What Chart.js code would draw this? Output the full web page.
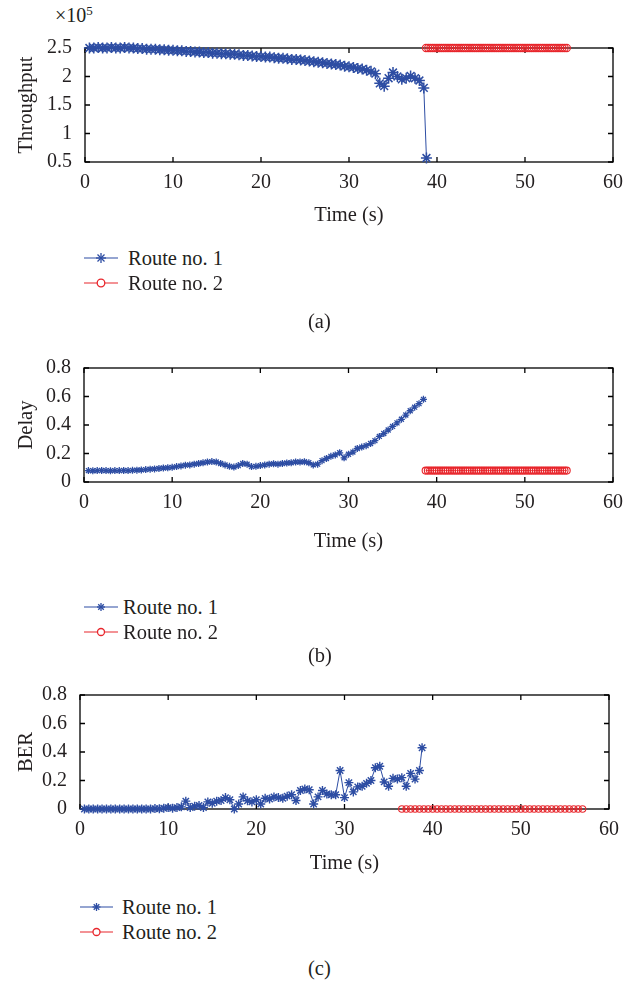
<!DOCTYPE html>
<html>
<head>
<meta charset="utf-8">
<script src="https://cdn.jsdelivr.net/npm/chart.js@4.4.1/dist/chart.umd.min.js"></script>
<style>
  body { margin: 0; background: #fff; width: 637px; height: 984px; position: relative; overflow: hidden;
         font-family: "Liberation Serif", "Times New Roman", serif; color: #231f20; }
  .panel { position: absolute; left: 0; width: 637px; }
  .txt { position: absolute; font-size: 20.5px; line-height: 1; white-space: nowrap; }
  .leg { position: absolute; display: flex; align-items: center; height: 24px; font-size: 20.5px; white-space: nowrap; }
  .leg svg { display: block; }
</style>
</head>
<body>

<span class="txt" style="left:55px; top:4px; font-size:20px;">×10<sup style="font-size:13px; vertical-align:7px;">5</sup></span>
<div class="panel" style="top:8px; height:224px"><canvas id="chartA"></canvas></div>
<div class="panel" style="top:328px; height:230px"><canvas id="chartB"></canvas></div>
<div class="panel" style="top:655px; height:225px"><canvas id="chartC"></canvas></div>

<!-- legends -->
<div class="leg" style="left:84px; top:246px"><svg width="34" height="24"><line x1="0" y1="12" x2="34" y2="12" stroke="#2d4da3" stroke-width="1.2"/><g stroke="#2d4da3" stroke-width="1.3"><line x1="17" y1="7" x2="17" y2="17"/><line x1="12" y1="12" x2="22" y2="12"/><line x1="13.5" y1="8.5" x2="20.5" y2="15.5"/><line x1="13.5" y1="15.5" x2="20.5" y2="8.5"/></g></svg><span style="margin-left:10px">Route no. 1</span></div>
<div class="leg" style="left:84px; top:271px"><svg width="34" height="24"><line x1="0" y1="12" x2="34" y2="12" stroke="#e8262c" stroke-width="1.2"/><circle cx="17" cy="12" r="3.8" fill="#fff" stroke="#e8262c" stroke-width="1.3"/></svg><span style="margin-left:10px">Route no. 2</span></div>
<div class="txt" style="left:308px; top:311px;">(a)</div>

<div class="leg" style="left:84px; top:595px"><svg width="34" height="24"><line x1="0" y1="12" x2="34" y2="12" stroke="#2d4da3" stroke-width="1.2"/><g stroke="#2d4da3" stroke-width="1.3"><line x1="17" y1="8" x2="17" y2="16"/><line x1="13" y1="12" x2="21" y2="12"/><line x1="14.2" y1="9.2" x2="19.8" y2="14.8"/><line x1="14.2" y1="14.8" x2="19.8" y2="9.2"/></g></svg><span style="margin-left:5px">Route no. 1</span></div>
<div class="leg" style="left:84px; top:620px"><svg width="34" height="24"><line x1="0" y1="12" x2="34" y2="12" stroke="#e8262c" stroke-width="1.2"/><circle cx="17" cy="12" r="3.5" fill="#fff" stroke="#e8262c" stroke-width="1.3"/></svg><span style="margin-left:5px">Route no. 2</span></div>
<div class="txt" style="left:308px; top:645px;">(b)</div>

<div class="leg" style="left:80px; top:895px"><svg width="33" height="24"><line x1="0" y1="12" x2="33" y2="12" stroke="#2d4da3" stroke-width="1.2"/><g stroke="#2d4da3" stroke-width="1.3"><line x1="16.5" y1="8" x2="16.5" y2="16"/><line x1="12.5" y1="12" x2="20.5" y2="12"/><line x1="13.7" y1="9.2" x2="19.3" y2="14.8"/><line x1="13.7" y1="14.8" x2="19.3" y2="9.2"/></g></svg><span style="margin-left:9px">Route no. 1</span></div>
<div class="leg" style="left:80px; top:920px"><svg width="33" height="24"><line x1="0" y1="12" x2="33" y2="12" stroke="#e8262c" stroke-width="1.2"/><circle cx="16.5" cy="12" r="3.5" fill="#fff" stroke="#e8262c" stroke-width="1.3"/></svg><span style="margin-left:9px">Route no. 2</span></div>
<div class="txt" style="left:308px; top:958px;">(c)</div>

<script>
// ---- data ----
// route 1 sample times (s)
const route1Time = [
  0.5, 1, 1.5, 2, 2.5, 3, 3.5, 4, 4.5, 5,
  5.5, 6, 6.5, 7, 7.5, 8, 8.5, 9, 9.5, 10,
  10.5, 11, 11.5, 12, 12.5, 13, 13.5, 14, 14.5, 15,
  15.5, 16, 16.5, 17, 17.5, 18, 18.5, 19, 19.5, 20,
  20.5, 21, 21.5, 22, 22.5, 23, 23.5, 24, 24.5, 25,
  25.5, 26, 26.5, 27, 27.5, 28, 28.5, 29, 29.5, 30,
  30.5, 31, 31.5, 32, 32.5, 33, 33.5, 34, 34.5, 35,
  35.5, 36, 36.5, 37, 37.5, 38, 38.5, 38.8
];
// throughput, in units of 10^5
const route1Throughput = [
  2.50, 2.50, 2.51, 2.50, 2.50, 2.51, 2.50, 2.50, 2.51, 2.50,
  2.50, 2.49, 2.49, 2.48, 2.48, 2.48, 2.47, 2.47, 2.46, 2.46,
  2.45, 2.45, 2.44, 2.44, 2.43, 2.43, 2.42, 2.42, 2.41, 2.41,
  2.40, 2.40, 2.39, 2.39, 2.38, 2.37, 2.37, 2.36, 2.35, 2.35,
  2.34, 2.34, 2.33, 2.32, 2.32, 2.31, 2.30, 2.30, 2.29, 2.28,
  2.27, 2.26, 2.25, 2.24, 2.23, 2.22, 2.21, 2.20, 2.18, 2.17,
  2.16, 2.14, 2.13, 2.11, 2.09, 2.05, 1.88, 1.83, 1.97, 2.07,
  2.00, 1.95, 1.97, 2.01, 1.97, 1.93, 1.80, 0.57
];
const route1Delay = [
  0.080, 0.079, 0.080, 0.081, 0.080, 0.079, 0.080, 0.080, 0.081, 0.080,
  0.082, 0.083, 0.085, 0.087, 0.090, 0.092, 0.095, 0.098, 0.100, 0.103,
  0.108, 0.113, 0.118, 0.120, 0.125, 0.130, 0.135, 0.140, 0.143, 0.140,
  0.130, 0.120, 0.110, 0.105, 0.115, 0.130, 0.125, 0.108, 0.110, 0.115,
  0.120, 0.125, 0.128, 0.125, 0.130, 0.133, 0.135, 0.140, 0.140, 0.142,
  0.135, 0.120, 0.125, 0.150, 0.165, 0.180, 0.190, 0.205, 0.170, 0.195,
  0.210, 0.235, 0.245, 0.255, 0.270, 0.290, 0.320, 0.340, 0.365, 0.390,
  0.415, 0.440, 0.470, 0.500, 0.525, 0.550, 0.580
];
const route1Ber = [
  0, 0, 0, 0, 0, 0, 0, 0, 0, 0,
  0, 0, 0, 0, 0, 0, 0.003, 0.002, 0.005, 0.010,
  0.005, 0.010, 0.015, 0.055, 0.010, 0.020, 0.025, 0.010, 0.050, 0.040,
  0.055, 0.060, 0.080, 0.065, 0.000, 0.035, 0.085, 0.058, 0.050, 0.065,
  0.035, 0.075, 0.070, 0.085, 0.080, 0.075, 0.090, 0.100, 0.060, 0.130,
  0.140, 0.135, 0.035, 0.085, 0.130, 0.105, 0.100, 0.100, 0.270, 0.080,
  0.185, 0.120, 0.155, 0.160, 0.180, 0.200, 0.290, 0.300, 0.190, 0.160,
  0.215, 0.210, 0.220, 0.160, 0.250, 0.210, 0.270, 0.430
];

// route 2 sample times (s) for throughput and delay
const route2Time = [
  38.75, 39, 39.25, 39.5, 39.75, 40, 40.25, 40.5, 40.75, 41,
  41.25, 41.5, 41.75, 42, 42.25, 42.5, 42.75, 43, 43.25, 43.5,
  43.75, 44, 44.25, 44.5, 44.75, 45, 45.25, 45.5, 45.75, 46,
  46.25, 46.5, 46.75, 47, 47.25, 47.5, 47.75, 48, 48.25, 48.5,
  48.75, 49, 49.25, 49.5, 49.75, 50, 50.25, 50.5, 50.75, 51,
  51.25, 51.5, 51.75, 52, 52.25, 52.5, 52.75, 53, 53.25, 53.5,
  53.75, 54, 54.25, 54.5, 54.75
];
const route2Throughput = [
  2.5, 2.5, 2.5, 2.5, 2.5, 2.5, 2.5, 2.5, 2.5, 2.5,
  2.5, 2.5, 2.5, 2.5, 2.5, 2.5, 2.5, 2.5, 2.5, 2.5,
  2.5, 2.5, 2.5, 2.5, 2.5, 2.5, 2.5, 2.5, 2.5, 2.5,
  2.5, 2.5, 2.5, 2.5, 2.5, 2.5, 2.5, 2.5, 2.5, 2.5,
  2.5, 2.5, 2.5, 2.5, 2.5, 2.5, 2.5, 2.5, 2.5, 2.5,
  2.5, 2.5, 2.5, 2.5, 2.5, 2.5, 2.5, 2.5, 2.5, 2.5,
  2.5, 2.5, 2.5, 2.5, 2.5
];
const route2Delay = [
  0.08, 0.08, 0.08, 0.08, 0.08, 0.08, 0.08, 0.08, 0.08, 0.08,
  0.08, 0.08, 0.08, 0.08, 0.08, 0.08, 0.08, 0.08, 0.08, 0.08,
  0.08, 0.08, 0.08, 0.08, 0.08, 0.08, 0.08, 0.08, 0.08, 0.08,
  0.08, 0.08, 0.08, 0.08, 0.08, 0.08, 0.08, 0.08, 0.08, 0.08,
  0.08, 0.08, 0.08, 0.08, 0.08, 0.08, 0.08, 0.08, 0.08, 0.08,
  0.08, 0.08, 0.08, 0.08, 0.08, 0.08, 0.08, 0.08, 0.08, 0.08,
  0.08, 0.08, 0.08, 0.08, 0.08
];
// route 2 BER samples
const route2BerTime = [
  36.5, 37, 37.5, 38, 38.5, 39, 39.5, 40, 40.5, 41,
  41.5, 42, 42.5, 43, 43.5, 44, 44.5, 45, 45.5, 46,
  46.5, 47, 47.5, 48, 48.5, 49, 49.5, 50, 50.5, 51,
  51.5, 52, 52.5, 53, 53.5, 54, 54.5, 55, 55.5, 56,
  56.5, 57
];
const route2Ber = [
  0, 0, 0, 0, 0, 0, 0, 0, 0, 0,
  0, 0, 0, 0, 0, 0, 0, 0, 0, 0,
  0, 0, 0, 0, 0, 0, 0, 0, 0, 0,
  0, 0, 0, 0, 0, 0, 0, 0, 0, 0,
  0, 0
];

// tick labels
const timeTicks = [0, 10, 20, 30, 40, 50, 60];
const throughputTicks = [0.5, 1, 1.5, 2, 2.5];
const delayTicks = [0, 0.2, 0.4, 0.6, 0.8];
const berTicks = [0, 0.2, 0.4, 0.6, 0.8];

const BLUE = '#2d4da3';
const RED = '#e8262c';
const TEXT = '#231f20';
const FONT = 'Liberation Serif';

// box round the plot area with inward ticks on all four sides
const framePlugin = {
  id: 'frame',
  beforeDatasetsDraw(chart) {
    const { ctx, chartArea: a, scales: { x, y } } = chart;
    ctx.save();
    ctx.strokeStyle = '#000';
    ctx.lineWidth = 1.3;
    ctx.strokeRect(a.left, a.top, a.right - a.left, a.bottom - a.top);
    ctx.beginPath();
    x.ticks.forEach(t => {
      const px = x.getPixelForValue(t.value);
      ctx.moveTo(px, a.bottom); ctx.lineTo(px, a.bottom - 5);
      ctx.moveTo(px, a.top); ctx.lineTo(px, a.top + 5);
    });
    y.ticks.forEach(t => {
      const py = y.getPixelForValue(t.value);
      ctx.moveTo(a.left, py); ctx.lineTo(a.left + 5, py);
      ctx.moveTo(a.right, py); ctx.lineTo(a.right - 5, py);
    });
    ctx.stroke();
    ctx.restore();
  }
};

function toPoints(xs, ys) {
  return ys.map((v, i) => ({ x: xs[i], y: v }));
}

function makeChart(id, cfg) {
  return new Chart(document.getElementById(id), {
    type: 'line',
    data: {
      datasets: [
        {
          label: 'Route no. 1',
          data: toPoints(cfg.t1, cfg.v1),
          borderColor: BLUE, backgroundColor: BLUE,
          borderWidth: 1, pointStyle: 'star', pointRadius: cfg.starSize,
          pointBorderWidth: cfg.starWidth, clip: false
        },
        {
          label: 'Route no. 2',
          data: toPoints(cfg.t2, cfg.v2),
          borderColor: RED, backgroundColor: 'rgba(0,0,0,0)',
          borderWidth: 1, pointStyle: 'circle', pointRadius: cfg.circleSize,
          pointBorderWidth: 1.1, clip: false
        }
      ]
    },
    options: {
      responsive: true,
      maintainAspectRatio: false,
      animation: false,
      layout: { padding: { top: 40, right: cfg.padRight, left: 0, bottom: 0 } },
      plugins: { legend: { display: false }, tooltip: { enabled: false } },
      scales: {
        x: {
          type: 'linear', min: 0, max: 60,
          afterBuildTicks: s => { s.ticks = timeTicks.map(v => ({ value: v })); },
          afterFit: s => { s.height = cfg.bottomHeight; },
          grid: { display: false }, border: { display: false },
          ticks: { color: TEXT, padding: 1, maxRotation: 0, font: { family: FONT, size: 20 } },
          title: { display: true, text: 'Time (s)', color: TEXT, padding: { top: 0, bottom: 4 },
                   font: { family: FONT, size: 20.5 } }
        },
        y: {
          min: cfg.yTicks[0], max: cfg.yTicks[cfg.yTicks.length - 1],
          afterBuildTicks: s => { s.ticks = cfg.yTicks.map(v => ({ value: v })); },
          afterFit: s => { s.width = cfg.leftWidth; },
          grid: { display: false }, border: { display: false },
          ticks: { color: TEXT, padding: 5, callback: v => String(v), font: { family: FONT, size: 20 } },
          title: { display: true, text: cfg.yTitle, color: TEXT, padding: { top: 14, bottom: 0 },
                   font: { family: FONT, size: 20.5 } }
        }
      }
    },
    plugins: [framePlugin]
  });
}

makeChart('chartA', {
  t1: route1Time, v1: route1Throughput, t2: route2Time, v2: route2Throughput,
  yTicks: throughputTicks, yTitle: 'Throughput', leftWidth: 85, padRight: 24,
  bottomHeight: 70, starSize: 5.5, starWidth: 1.5, circleSize: 3.6
});
makeChart('chartB', {
  t1: route1Time, v1: route1Delay, t2: route2Time, v2: route2Delay,
  yTicks: delayTicks, yTitle: 'Delay', leftWidth: 84, padRight: 24,
  bottomHeight: 76, starSize: 3.5, starWidth: 1.3, circleSize: 3.5
});
makeChart('chartC', {
  t1: route1Time, v1: route1Ber, t2: route2BerTime, v2: route2Ber,
  yTicks: berTicks, yTitle: 'BER', leftWidth: 80, padRight: 28,
  bottomHeight: 71, starSize: 4.5, starWidth: 1.4, circleSize: 3.2
});
</script>
</body>
</html>
